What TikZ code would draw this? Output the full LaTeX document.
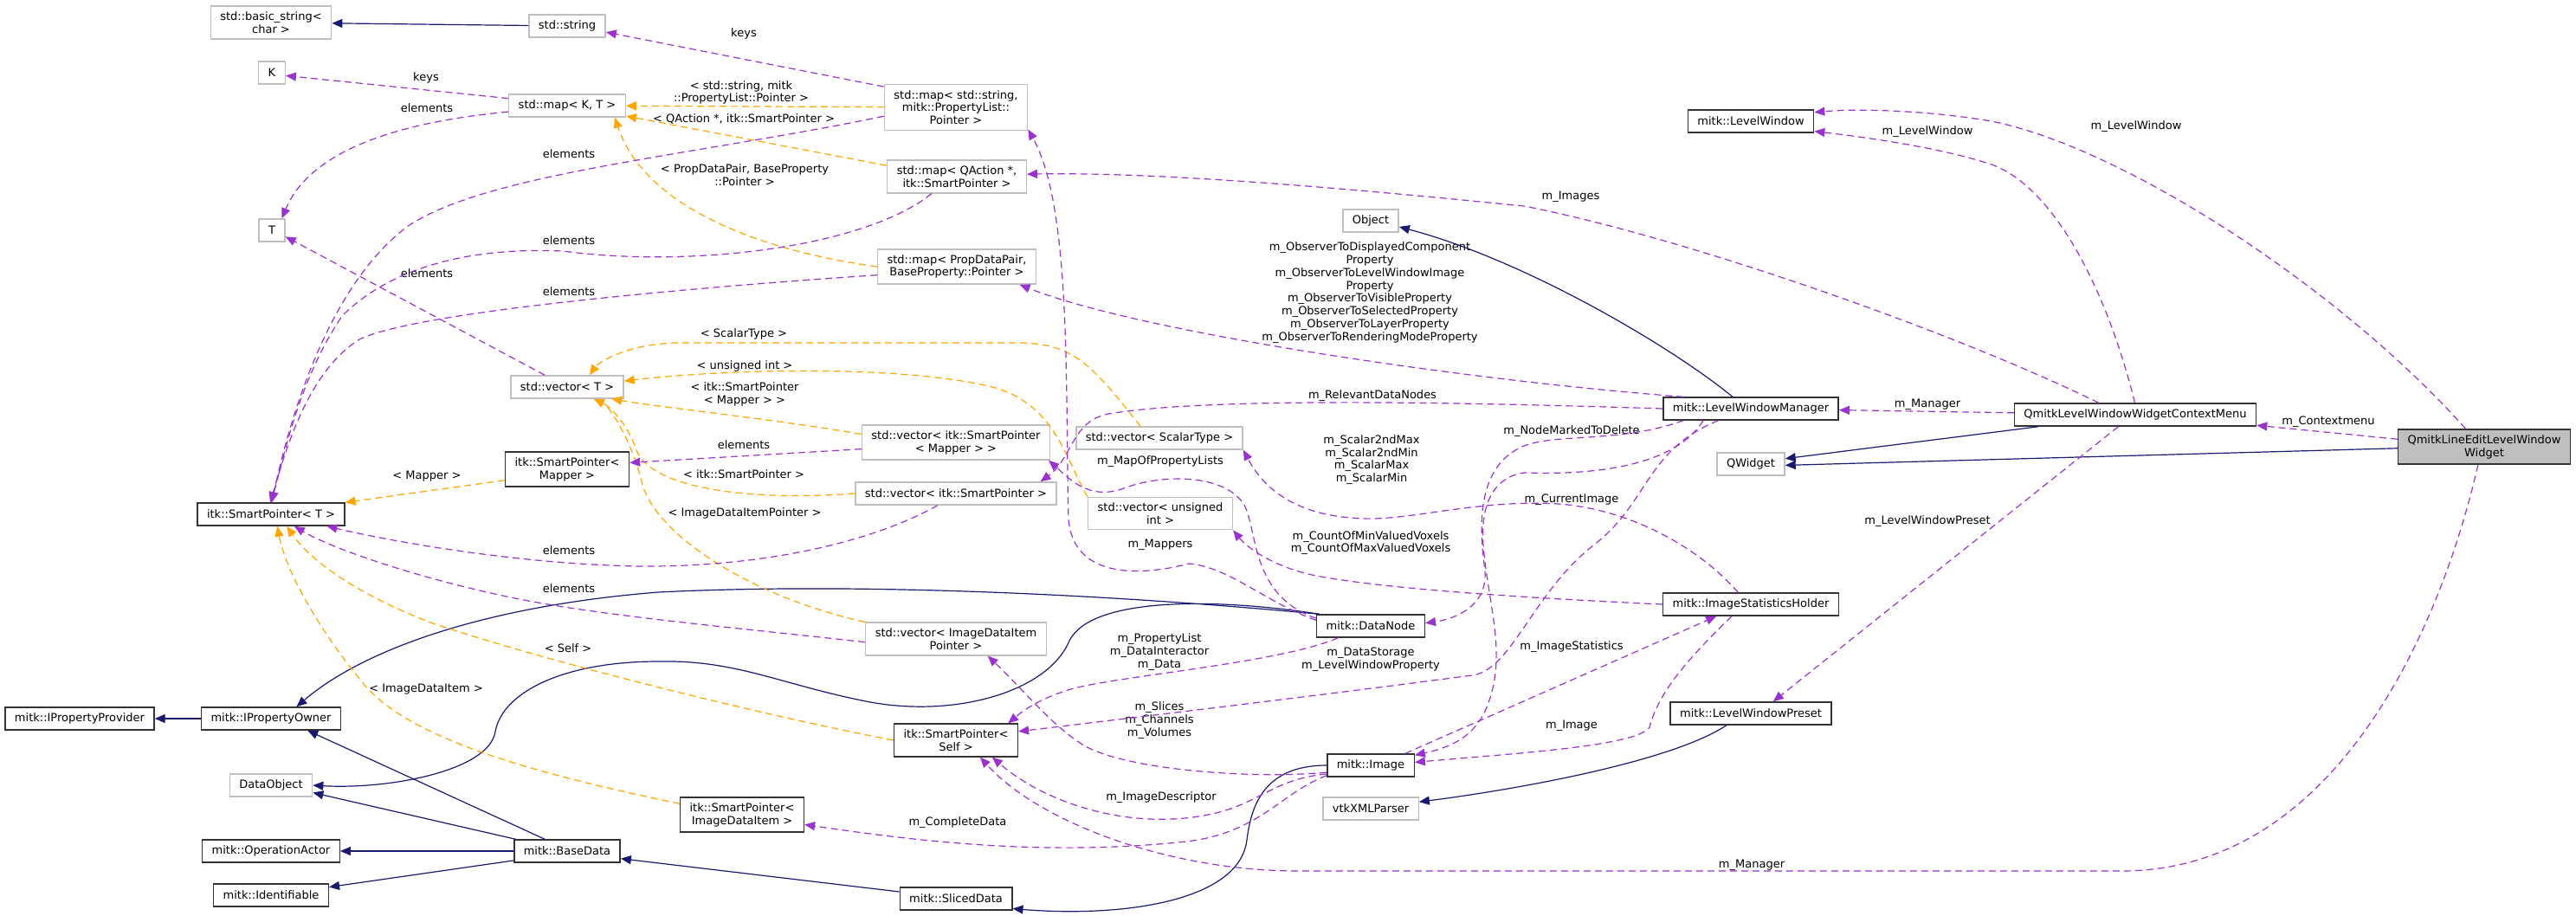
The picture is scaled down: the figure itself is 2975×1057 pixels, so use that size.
\documentclass[tikz,border=0pt]{standalone}
\usepackage{fontspec}
\setmainfont{DejaVu Sans}
\usetikzlibrary{arrows.meta}
\definecolor{inhcol}{HTML}{191970}
\definecolor{tplcol}{HTML}{FFA500}
\definecolor{usecol}{HTML}{9A32CD}
\definecolor{undoc}{HTML}{BFBFBF}

\begin{document}
\begin{tikzpicture}[x=0.5pt, y=-0.5pt,
  cls/.style={draw=black!80, fill=white, line width=0.7pt, font=\fontsize{6.5}{7.4}\selectfont, align=center, inner xsep=5.5pt, inner ysep=3.2pt, minimum height=13pt},
  ext/.style={cls, draw=undoc},
  lab/.style={font=\fontsize{6.5}{7.4}\selectfont, align=center, inner sep=0pt},
  inh/.style={draw=inhcol, line width=0.6pt, -{Triangle[length=6pt,width=5pt]}},
  tpl/.style={draw=tplcol, line width=0.6pt, dash pattern=on 4pt off 2.5pt, -{Triangle[length=6pt,width=5pt]}},
  member/.style={draw=usecol, line width=0.6pt, dash pattern=on 4pt off 2.5pt, -{Triangle[length=6pt,width=5pt]}}]
\useasboundingbox (0,0) rectangle (2975,1057);

\node[name=bstr, ext] at (313,26) {std::basic\_string<\\char >};
\node[name=str, ext] at (655,30) {std::string};
\node[name=kk, ext] at (314,84) {K};
\node[name=mapkt, ext] at (655,122) {std::map< K, T >};
\node[name=tt, ext] at (314,266) {T};
\node[name=vect, ext] at (655,447) {std::vector< T >};
\node[name=spmap, cls] at (655,542) {itk::SmartPointer<\\Mapper >};
\node[name=spt, cls] at (313,594) {itk::SmartPointer< T >};
\node[name=iprov, cls] at (92,830) {mitk::IPropertyProvider};
\node[name=iown, cls] at (313,830) {mitk::IPropertyOwner};
\node[name=dobj, ext] at (313,907) {DataObject};
\node[name=opact, cls] at (313,983) {mitk::OperationActor};
\node[name=ident, cls] at (313,1034) {mitk::Identifiable};
\node[name=based, cls] at (655,983) {mitk::BaseData};
\node[name=spitem, cls] at (857,941) {itk::SmartPointer<\\ImageDataItem >};
\node[name=mapstr, ext] at (1104,124) {std::map< std::string,\\mitk::PropertyList::\\Pointer >};
\node[name=mapqa, ext] at (1105,204) {std::map< QAction *,\\itk::SmartPointer >};
\node[name=mapprop, ext] at (1105,308) {std::map< PropDataPair,\\BaseProperty::Pointer >};
\node[name=vecmap, ext] at (1104,511) {std::vector< itk::SmartPointer\\< Mapper > >};
\node[name=vecsp, ext] at (1104,570) {std::vector< itk::SmartPointer >};
\node[name=vecitem, ext] at (1104,738) {std::vector< ImageDataItem\\Pointer >};
\node[name=spself, cls] at (1104,855) {itk::SmartPointer<\\Self >};
\node[name=sliced, cls] at (1104,1038) {mitk::SlicedData};
\node[name=vecscal, ext] at (1339,506) {std::vector< ScalarType >};
\node[name=vecuint, ext] at (1340,593) {std::vector< unsigned\\int >};
\node[name=object, ext] at (1583,255) {Object};
\node[name=datanode, cls] at (1583,723) {mitk::DataNode};
\node[name=image, cls] at (1583,884) {mitk::Image};
\node[name=vtkxml, ext] at (1583,934) {vtkXMLParser};
\node[name=lw, cls] at (2022,140) {mitk::LevelWindow};
\node[name=lwm, cls] at (2022,472) {mitk::LevelWindowManager};
\node[name=qwidget, ext] at (2022,536) {QWidget};
\node[name=ish, cls] at (2022,698) {mitk::ImageStatisticsHolder};
\node[name=lwp, cls] at (2022,824) {mitk::LevelWindowPreset};
\node[name=ctx, cls] at (2466,479) {QmitkLevelWindowWidgetContextMenu};
\node[name=widget, cls, fill=undoc] at (2869,516) {QmitkLineEditLevelWindow\\Widget};

\node[name=lkeys1, lab] at (859,39) {keys};
\node[name=lkeys2, lab] at (492,90) {keys};
\node[name=lel1, lab] at (493,125) {elements};
\node[name=lel2, lab] at (657,178) {elements};
\node[name=lel3, lab] at (657,278) {elements};
\node[name=lel4, lab] at (493,316) {elements};
\node[name=lel5, lab] at (657,337) {elements};
\node[name=lel6, lab] at (859,514) {elements};
\node[name=lel7, lab] at (657,636) {elements};
\node[name=lel8, lab] at (657,680) {elements};
\node[name=ltstr, lab] at (856,107) {< std::string, mitk\\::PropertyList::Pointer >};
\node[name=ltqa, lab] at (859,137) {< QAction *, itk::SmartPointer >};
\node[name=ltprop, lab] at (860,202) {< PropDataPair, BaseProperty\\::Pointer >};
\node[name=ltscal, lab] at (859,386) {< ScalarType >};
\node[name=ltuint, lab] at (860,423) {< unsigned int >};
\node[name=ltvmap, lab] at (860,455) {< itk::SmartPointer\\< Mapper > >};
\node[name=ltmapper, lab] at (493,550) {< Mapper >};
\node[name=ltvsp, lab] at (859,548) {< itk::SmartPointer >};
\node[name=ltitemp, lab] at (860,593) {< ImageDataItemPointer >};
\node[name=ltself, lab] at (656,749) {< Self >};
\node[name=ltitem, lab] at (492,796) {< ImageDataItem >};
\node[name=lmapof, lab] at (1340,533) {m\_MapOfPropertyLists};
\node[name=lmappers, lab] at (1340,629) {m\_Mappers};
\node[name=lprop, lab] at (1339,753) {m\_PropertyList\\m\_DataInteractor\\m\_Data};
\node[name=lslices, lab] at (1339,832) {m\_Slices\\m\_Channels\\m\_Volumes};
\node[name=ldesc, lab] at (1341,921) {m\_ImageDescriptor};
\node[name=lcomplete, lab] at (1106,950) {m\_CompleteData};
\node[name=limages, lab] at (1814,227) {m\_Images};
\node[name=lobs, lab] at (1582,338) {m\_ObserverToDisplayedComponent\\Property\\m\_ObserverToLevelWindowImage\\Property\\m\_ObserverToVisibleProperty\\m\_ObserverToSelectedProperty\\m\_ObserverToLayerProperty\\m\_ObserverToRenderingModeProperty};
\node[name=lrel, lab] at (1585,457) {m\_RelevantDataNodes};
\node[name=lnode, lab] at (1815,498) {m\_NodeMarkedToDelete};
\node[name=lscal, lab] at (1584,531) {m\_Scalar2ndMax\\m\_Scalar2ndMin\\m\_ScalarMax\\m\_ScalarMin};
\node[name=lcur, lab] at (1815,577) {m\_CurrentImage};
\node[name=lcount, lab] at (1583,627) {m\_CountOfMinValuedVoxels\\m\_CountOfMaxValuedVoxels};
\node[name=lstat, lab] at (1815,747) {m\_ImageStatistics};
\node[name=lstore, lab] at (1583,762) {m\_DataStorage\\m\_LevelWindowProperty};
\node[name=limage, lab] at (1815,838) {m\_Image};
\node[name=lmgr1, lab] at (2023,999) {m\_Manager};
\node[name=llw1, lab] at (2226,152) {m\_LevelWindow};
\node[name=llw2, lab] at (2467,146) {m\_LevelWindow};
\node[name=lmgr2, lab] at (2226,467) {m\_Manager};
\node[name=lpreset, lab] at (2226,602) {m\_LevelWindowPreset};
\node[name=lctx, lab] at (2689,487) {m\_Contextmenu};

\draw[inh] (str) -- (bstr);
\draw[inh] (iown) -- (iprov);
\draw[inh] (datanode.167) .. controls (1300,688) and (1000,672) .. (760,684) .. controls (560,700) and (420,750) .. (iown.25);
\draw[inh] (datanode.167) .. controls (1400,690) and (1260,690) .. (1235,740) .. controls (1210,800) and (1100,830) .. (1000,810) .. controls (900,790) and (850,762) .. (760,764) .. controls (650,764) and (580,800) .. (572,845) .. controls (565,890) and (450,912) .. (dobj.east);
\draw[inh] (based.152) -- (iown.-18);
\draw[inh] (based.167) -- (dobj.-10);
\draw[inh] (based) -- (opact);
\draw[inh] (based.190) -- (ident.8);
\draw[inh] (sliced.173) -- (based.-8);
\draw[inh] (image.west) .. controls (1460,884) and (1445,930) .. (1440,970) .. controls (1432,1040) and (1300,1060) .. (sliced.-10);
\draw[inh] (lwm.147) .. controls (1930,400) and (1760,300) .. (object.-12);
\draw[inh] (ctx.187) -- (qwidget.9);
\draw[inh] (widget.181) -- (qwidget.-2);
\draw[inh] (lwp.206) .. controls (1930,880) and (1750,912) .. (vtkxml.8);

\draw[tpl] (mapstr) -- (mapkt);
\draw[tpl] (mapqa.171) -- (mapkt.-10);
\draw[tpl] (mapprop.west) .. controls (880,290) and (745,240) .. (mapkt.-14);
\draw[tpl] (vecscal.148) .. controls (1260,420) and (1240,398) .. (1180,396) -- (780,396) .. controls (720,398) and (690,420) .. (vect.28);
\draw[tpl] (vecuint.north west) .. controls (1230,530) and (1220,470) .. (1150,448) .. controls (1050,422) and (850,425) .. (vect.6);
\draw[tpl] (vecmap.175) .. controls (900,485) and (760,470) .. (vect.-15);
\draw[tpl] (vecsp.west) .. controls (850,580) and (750,560) .. (735,520) .. controls (725,490) and (705,470) .. (vect.-24);
\draw[tpl] (vecitem.north west) .. controls (870,690) and (760,620) .. (742,560) .. controls (730,510) and (705,470) .. (vect.-24);
\draw[tpl] (spmap.190) -- (spt.north east);
\draw[tpl] (spself.west) .. controls (900,830) and (650,770) .. (500,720) .. controls (420,690) and (360,650) .. (spt.-37);
\draw[tpl] (spitem.170) .. controls (600,890) and (470,850) .. (420,790) .. controls (370,730) and (330,660) .. (spt.-62);

\draw[member] (mapstr.164) -- (str.-9);
\draw[member] (mapkt.173) -- (kk.-12);
\draw[member] (mapkt.186) .. controls (470,140) and (360,170) .. (tt.50);
\draw[member] (vect.152) -- (tt.-25);
\draw[member] (mapstr.187) .. controls (800,180) and (560,200) .. (470,262) .. controls (380,330) and (335,480) .. (spt.86);
\draw[member] (mapqa.214) .. controls (1000,285) and (800,310) .. (650,290) .. controls (540,285) and (450,310) .. (395,365) .. controls (345,440) and (330,520) .. (spt.90);
\draw[member] (mapprop.186) .. controls (800,332) and (480,360) .. (415,392) .. controls (355,430) and (330,520) .. (spt.94);
\draw[member] (vecmap.184) -- (spmap.6);
\draw[member] (vecsp.213) .. controls (1000,630) and (870,655) .. (740,654) .. controls (600,652) and (450,625) .. (spt.-12);
\draw[member] (vecitem.182) .. controls (860,726) and (700,712) .. (600,692) .. controls (480,668) and (380,632) .. (spt.-27);
\draw[member] (datanode.174) .. controls (1460,695) and (1420,655) .. (1373,651) .. controls (1320,665) and (1240,670) .. (1234,600) .. controls (1230,450) and (1238,240) .. (mapstr.-17);
\draw[member] (datanode.172) .. controls (1450,690) and (1452,625) .. (1440,590) .. controls (1425,548) and (1345,545) .. (1295,565) .. controls (1255,578) and (1232,550) .. (vecmap.-11);
\draw[member] (lwm.west) .. controls (1700,465) and (1400,458) .. (1280,478) .. controls (1238,486) and (1238,530) .. (vecsp.8);
\draw[member] (datanode.200) .. controls (1480,765) and (1300,780) .. (1240,795) .. controls (1205,805) and (1185,818) .. (spself.18);
\draw[member] (lwm.200) .. controls (1900,520) and (1905,580) .. (1840,630) .. controls (1770,685) and (1745,775) .. (1700,780) .. controls (1550,800) and (1300,830) .. (spself.8);
\draw[member] (image.189) .. controls (1450,900) and (1300,890) .. (1250,860) .. controls (1212,835) and (1185,800) .. (vecitem.-28);
\draw[member] (image.191) .. controls (1470,900) and (1455,928) .. (1400,940) .. controls (1310,960) and (1210,930) .. (spself.-25);
\draw[member] (image.193) .. controls (1480,915) and (1455,962) .. (1370,972) .. controls (1200,990) and (1050,970) .. (spitem.-9);
\draw[member] (widget.-109) .. controls (2820,720) and (2700,1006) .. (2450,1006) -- (1500,1006) .. controls (1350,1006) and (1200,950) .. (spself.-35);
\draw[member] (lwm.170) .. controls (1700,440) and (1320,385) .. (mapprop.-16);
\draw[member] (ctx.162) .. controls (2260,385) and (1950,275) .. (1760,238) .. controls (1600,222) and (1350,198) .. (mapqa.2);
\draw[member] (ctx) -- (lwm);
\draw[member] (ctx.92) .. controls (2432,330) and (2370,215) .. (2300,190) .. controls (2240,170) and (2150,158) .. (lw.-9);
\draw[member] (widget.136) .. controls (2700,330) and (2450,170) .. (2300,140) .. controls (2230,128) and (2150,125) .. (lw.8);
\draw[member] (widget.175) -- (ctx.-5);
\draw[member] (ctx.215) -- (lwp.28);
\draw[member] (lwm.190) .. controls (1870,512) and (1800,500) .. (1760,515) .. controls (1700,540) and (1710,620) .. (1715,660) .. controls (1718,700) and (1680,715) .. (datanode.3);
\draw[member] (lwm.194) .. controls (1930,545) and (1820,548) .. (1760,546) .. controls (1720,552) and (1710,590) .. (1713,630) .. controls (1718,690) and (1735,740) .. (1725,790) .. controls (1715,840) and (1690,860) .. (image.13);
\draw[member] (ish.212) .. controls (1950,760) and (1915,800) .. (1905,840) .. controls (1890,862) and (1750,870) .. (image.4);
\draw[member] (image.19) -- (ish.199);
\draw[member] (ish.137) .. controls (1960,630) and (1880,588) .. (1800,582) .. controls (1700,576) and (1620,605) .. (1560,598) .. controls (1510,594) and (1465,575) .. (vecscal.-8);
\draw[member] (ish.west) .. controls (1750,690) and (1600,680) .. (1520,665) .. controls (1470,655) and (1440,632) .. (vecuint.-13);
\end{tikzpicture}
\end{document}
